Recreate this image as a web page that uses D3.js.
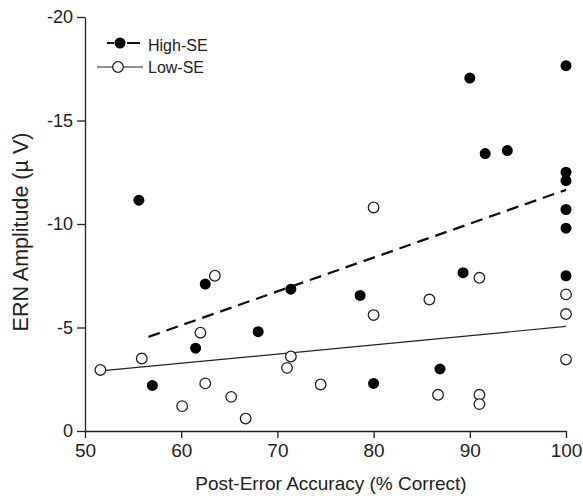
<!DOCTYPE html>
<html>
<head>
<meta charset="utf-8">
<script src="https://cdn.jsdelivr.net/npm/d3@7"></script>
<style>
  body { margin: 0; background: #fff; }
  svg { font-family: "Liberation Sans", Arial, sans-serif; }
</style>
</head>
<body>
<div id="chart"></div>
<script>
/* ERN amplitude vs post-error accuracy, High-SE vs Low-SE */

const highX = [55.6, 57.0, 61.5, 62.5, 68.0, 71.4, 78.6, 80.0, 86.9, 89.3, 90.0, 91.6, 93.9, 100, 100, 100, 100, 100, 100];
const highY = [-11.15, -2.2, -4.0, -7.1, -4.8, -6.85, -6.55, -2.3, -3.0, -7.65, -17.05, -13.4, -13.55, -17.65, -12.5, -12.1, -10.7, -9.8, -7.5];

const lowX = [51.6, 55.9, 60.1, 62.0, 62.5, 63.5, 65.2, 66.7, 71.0, 71.4, 74.5, 80.0, 80.0, 85.8, 91.0, 86.7, 91.0, 91.0, 100, 100, 100];
const lowY = [-2.95, -3.5, -1.2, -4.75, -2.3, -7.5, -1.65, -0.6, -3.05, -3.6, -2.25, -10.8, -5.6, -6.35, -7.4, -1.75, -1.75, -1.3, -6.6, -5.65, -3.45];

// fitted lines, end points
const highFitX = [56.6, 100];
const highFitY = [-4.55, -11.65];
const lowFitX = [51.6, 100];
const lowFitY = [-2.9, -5.05];

const xTicks = [50, 60, 70, 80, 90, 100];
const yTicks = [0, -5, -10, -15, -20];

const width = 583,
      height = 496,
      margin = ({ top: 17, right: 17, bottom: 65, left: 85 });

let svg = d3.select("#chart")
    .append("svg")
    .attr("width", width)
    .attr("height", height);

let x = d3.scaleLinear()
    .domain([50, 100])
    .range([margin.left, width - margin.right]);

let y = d3.scaleLinear()
    .domain([0, -20])
    .range([height - margin.bottom, margin.top]);

// axes
let xAxis = svg.append("g")
    .attr("transform", `translate(0,${height - margin.bottom})`)
    .call(d3.axisBottom(x).tickValues(xTicks).tickSize(7).tickSizeOuter(0).tickPadding(6));

let yAxis = svg.append("g")
    .attr("transform", `translate(${margin.left},0)`)
    .call(d3.axisLeft(y).tickValues(yTicks).tickSize(8).tickSizeOuter(0).tickPadding(4)
        .tickFormat(d => String(d)));

for (let ax of [xAxis, yAxis]) {
    ax.selectAll("path, line").attr("stroke", "#222").attr("stroke-width", 1.3);
    ax.selectAll("text").attr("fill", "#222").style("font-size", "19px");
}
yAxis.selectAll("text").style("font-size", "18px");

// fit lines
const line = d3.line().x(d => x(d[0])).y(d => y(d[1]));

svg.append("path")
    .datum(highFitX.map((v, i) => [v, highFitY[i]]))
    .attr("d", line)
    .attr("fill", "none")
    .attr("stroke", "#111")
    .attr("stroke-width", 2.3)
    .attr("stroke-dasharray", "12,7");

svg.append("path")
    .datum(lowFitX.map((v, i) => [v, lowFitY[i]]))
    .attr("d", line)
    .attr("fill", "none")
    .attr("stroke", "#222")
    .attr("stroke-width", 1.2);

// points
svg.append("g")
    .selectAll("circle")
    .data(lowX.map((v, i) => [v, lowY[i]]))
    .join("circle")
    .attr("cx", d => x(d[0]))
    .attr("cy", d => y(d[1]))
    .attr("r", 5.3)
    .attr("fill", "#fff")
    .attr("stroke", "#222")
    .attr("stroke-width", 1.3);

svg.append("g")
    .selectAll("circle")
    .data(highX.map((v, i) => [v, highY[i]]))
    .join("circle")
    .attr("cx", d => x(d[0]))
    .attr("cy", d => y(d[1]))
    .attr("r", 5.5)
    .attr("fill", "#000");

// legend
let legend = svg.append("g");

legend.append("line")
    .attr("x1", 107).attr("x2", 140).attr("y1", 43).attr("y2", 43)
    .attr("stroke", "#111").attr("stroke-width", 2)
    .attr("stroke-dasharray", "7,13");
legend.append("line")
    .attr("x1", 128).attr("x2", 140).attr("y1", 43).attr("y2", 43)
    .attr("stroke", "#111").attr("stroke-width", 2);
legend.append("circle")
    .attr("cx", 120).attr("cy", 43).attr("r", 5.5).attr("fill", "#000");
legend.append("text")
    .attr("x", 148).attr("y", 51)
    .attr("fill", "#222").style("font-size", "16px")
    .text("High-SE");

legend.append("line")
    .attr("x1", 97).attr("x2", 143).attr("y1", 67).attr("y2", 67)
    .attr("stroke", "#222").attr("stroke-width", 1.2);
legend.append("circle")
    .attr("cx", 118).attr("cy", 67).attr("r", 5.3)
    .attr("fill", "#fff").attr("stroke", "#222").attr("stroke-width", 1.3);
legend.append("text")
    .attr("x", 148).attr("y", 73)
    .attr("fill", "#222").style("font-size", "16px")
    .text("Low-SE");

// axis titles
svg.append("text")
    .attr("text-anchor", "middle")
    .attr("x", 331)
    .attr("y", 490)
    .attr("fill", "#222")
    .style("font-size", "19px")
    .text("Post-Error Accuracy (% Correct)");

svg.append("text")
    .attr("text-anchor", "middle")
    .attr("transform", "translate(28,232) rotate(-90)")
    .attr("fill", "#222")
    .style("font-size", "21.5px")
    .text("ERN Amplitude (µ V)");
</script>
</body>
</html>
